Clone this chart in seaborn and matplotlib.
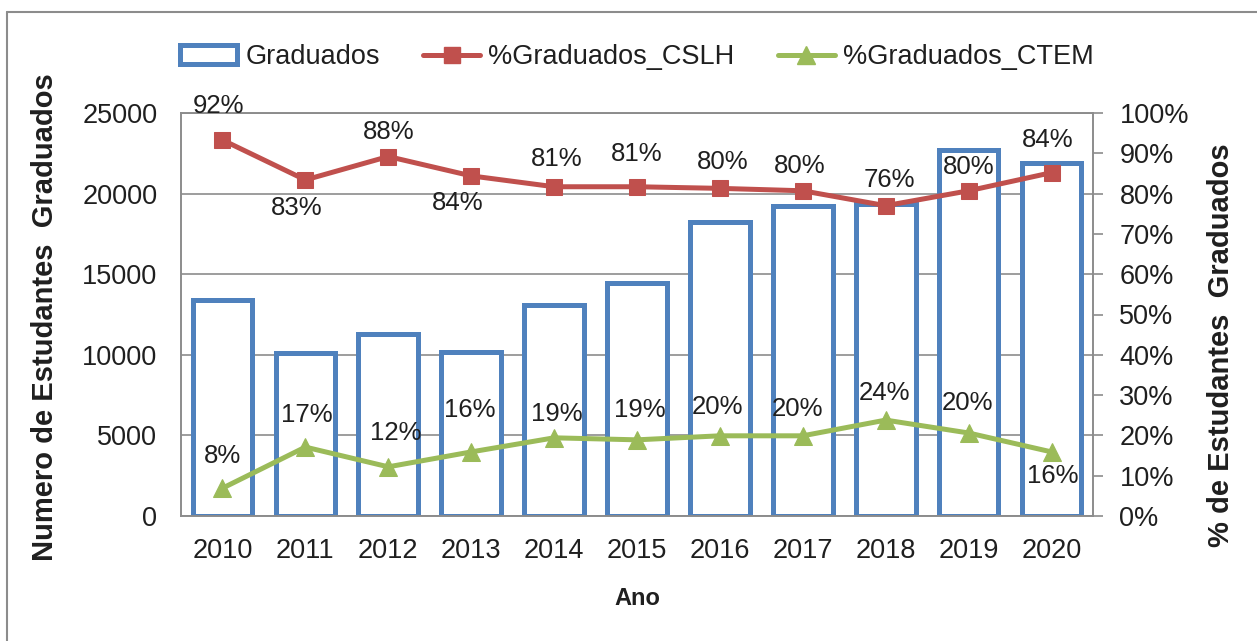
import numpy as np
import matplotlib
matplotlib.use("Agg")
import matplotlib.pyplot as plt
import seaborn as sns
from matplotlib.lines import Line2D
from matplotlib.patches import Patch
from matplotlib.ticker import PercentFormatter

# ---------------------------------------------------------------------------
# Data
# ---------------------------------------------------------------------------
years = ["2010", "2011", "2012", "2013", "2014", "2015",
         "2016", "2017", "2018", "2019", "2020"]
graduados = [13400, 10100, 11300, 10150, 13100, 14450,
             18250, 19250, 19350, 22700, 21900]
pct_cslh = [0.933, 0.834, 0.892, 0.844, 0.817, 0.817,
            0.813, 0.807, 0.770, 0.807, 0.852]
pct_cslh_labels = ["92%", "83%", "88%", "84%", "81%", "81%",
                   "80%", "80%", "76%", "80%", "84%"]
pct_ctem = [0.069, 0.171, 0.122, 0.159, 0.194, 0.189,
            0.199, 0.199, 0.238, 0.206, 0.159]
pct_ctem_labels = ["8%", "17%", "12%", "16%", "19%", "19%",
                   "20%", "20%", "24%", "20%", "16%"]

# label offsets in pixels (layout only)
cslh_offsets = [(-4, 34), (-9, -28), (0, 25), (-13, -27), (3, 28), (0, 33),
                (3, 26), (-3, 25), (4, 26), (0, 24), (-4, 33)]
ctem_offsets = [(0, 32), (1, 32), (7, 34), (-1, 42), (3, 24), (3, 30),
                (-2, 29), (-5, 27), (-1, 27), (-1, 30), (1, -24)]

# ---------------------------------------------------------------------------
# Style
# ---------------------------------------------------------------------------
BLUE = "#4F81BD"
RED = "#C0504D"
GREEN = "#9BBB59"
GRAY = "#8C8C8C"
TEXT = "#1F1F1F"

sns.set_theme(style="white")
plt.rcParams["font.family"] = ["Liberation Sans", "DejaVu Sans"]
plt.rcParams["text.color"] = TEXT

W, H = 1257, 641
fig = plt.figure(figsize=(W / 100, H / 100), dpi=100)
ax = fig.add_axes([181 / W, 1 - 516 / H, (1093 - 181) / W, (516 - 113) / H])

# bars
sns.barplot(x=years, y=graduados, ax=ax, color="white", saturation=1,
            edgecolor=BLUE, linewidth=3.6, width=0.72, zorder=2)
ax.set_ylim(0, 25000)
ax.set_yticks(np.arange(0, 25001, 5000))
ax.grid(axis="y", color=GRAY, linewidth=1.2)
ax.grid(axis="x", visible=False)
ax.set_axisbelow(True)
ax.tick_params(axis="y", length=0, pad=17, labelsize=19.5, labelcolor=TEXT)
ax.tick_params(axis="x", length=0, pad=16, labelsize=19.5, labelcolor=TEXT)
for sp in ax.spines.values():
    sp.set_color(GRAY)
    sp.set_linewidth(1.2)

# lines on secondary axis
ax2 = ax.twinx()
pos = np.arange(len(years))
sns.lineplot(x=pos, y=pct_cslh, ax=ax2, color=RED, linewidth=3.6,
             marker="s", markersize=11, markeredgecolor=RED, zorder=3)
sns.lineplot(x=pos, y=pct_ctem, ax=ax2, color=GREEN, linewidth=3.6,
             marker="^", markersize=13, markeredgecolor=GREEN, zorder=3)
ax2.set_ylim(0, 1)
ax2.set_yticks(np.arange(0, 1.001, 0.1))
ax2.yaxis.set_major_formatter(PercentFormatter(1.0, decimals=0))
ax2.tick_params(axis="y", length=7, width=1.2, color=GRAY, direction="out",
                pad=12, labelsize=19.5, labelcolor=TEXT, right=True)
ax2.grid(False)
for sp in ax2.spines.values():
    sp.set_color(GRAY)
    sp.set_linewidth(1.2)
ax.set_xlim(-0.5, len(years) - 0.5)

# data labels
for x, y, s, off in zip(pos, pct_cslh, pct_cslh_labels, cslh_offsets):
    ax2.annotate(s, (x, y), xytext=off, textcoords="offset pixels",
                 ha="center", va="center", fontsize=18.5, color=TEXT)
for x, y, s, off in zip(pos, pct_ctem, pct_ctem_labels, ctem_offsets):
    ax2.annotate(s, (x, y), xytext=off, textcoords="offset pixels",
                 ha="center", va="center", fontsize=18.5, color=TEXT)

# axis labels
ax.set_xlabel("Ano", fontsize=17, fontweight="bold", color=TEXT)
ax.xaxis.set_label_coords(0.5, (516 - 587) / 403)
ax.set_ylabel("Numero de Estudantes  Graduados", fontsize=21,
              fontweight="bold", color=TEXT)
ax.yaxis.set_label_coords((59 - 181) / 912, 0.4926)
ax2.set_ylabel("% de Estudantes  Graduados", fontsize=21,
               fontweight="bold", color=TEXT)
ax2.yaxis.set_label_coords((1207 - 181) / 912, 0.424)

# legend
handles = [
    Patch(facecolor="white", edgecolor=BLUE, linewidth=3.6),
    Line2D([], [], color=RED, linewidth=3.6, marker="s", markersize=11),
    Line2D([], [], color=GREEN, linewidth=3.6, marker="^", markersize=13),
]
fig.legend(handles, ["Graduados", "%Graduados_CSLH", "%Graduados_CTEM"],
           loc="center", bbox_to_anchor=(637 / W, 1 - 57 / H), ncol=3,
           frameon=False, fontsize=19.5, handlelength=2.1,
           handletextpad=0.3, columnspacing=1.6)

# outer border (left and top edges visible)
fig.add_artist(Line2D([7 / W, 7 / W], [0, 1 - 12 / H], transform=fig.transFigure,
                      color=GRAY, linewidth=1.5))
fig.add_artist(Line2D([7 / W, 1], [1 - 12 / H, 1 - 12 / H], transform=fig.transFigure,
                      color=GRAY, linewidth=1.5))

fig.savefig("out.png", dpi=100, facecolor="white")
